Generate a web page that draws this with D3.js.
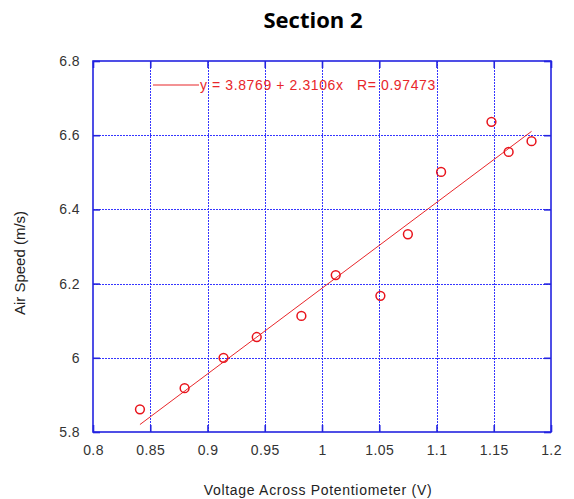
<!DOCTYPE html>
<html>
<head>
<meta charset="utf-8">
<script src="https://cdn.jsdelivr.net/npm/d3@7"></script>
<style>
  body { margin: 0; background: #fff; }
  svg { display: block; }
</style>
</head>
<body>
<svg id="drawing_region"></svg>
<script>
// measured points (voltage, air speed)
const voltage = [0.841, 0.880, 0.914, 0.943, 0.982, 1.012, 1.051, 1.075, 1.104, 1.148, 1.163, 1.183];
const airSpeed = [5.861, 5.918, 6.000, 6.056, 6.113, 6.223, 6.167, 6.333, 6.501, 6.636, 6.555, 6.584];

// linear fit shown in the legend
const fitIntercept = 3.8769;
const fitSlope = 2.3106;
const fitR = 0.97473;

const xTicks = [0.8, 0.85, 0.9, 0.95, 1, 1.05, 1.1, 1.15, 1.2];
const yTicks = [5.8, 6, 6.2, 6.4, 6.6, 6.8];

const data = voltage.map((v, i) => ({ x: v, y: airSpeed[i] }));

const config = {
    width: 574,
    height: 499,
    margin: { top: 61, right: 23, bottom: 67, left: 93 }
};

const svg = d3.select('#drawing_region')
    .attr('width', config.width)
    .attr('height', config.height);

const inner_width = config.width - config.margin.left - config.margin.right;
const inner_height = config.height - config.margin.top - config.margin.bottom;

const chart = svg.append('g')
    .attr('transform', `translate(${config.margin.left}, ${config.margin.top})`);

const xscale = d3.scaleLinear().domain([0.8, 1.2]).range([0, inner_width]);
const yscale = d3.scaleLinear().domain([5.8, 6.8]).range([inner_height, 0]);

const blue = '#2424e0';
const gridBlue = '#3535ff';
const tickFont = 'Liberation Sans, Arial, sans-serif';
const crisp = v => Math.round(v) + 0.5;

// grid
chart.append('g')
    .selectAll('line')
    .data(xTicks.slice(1, -1))
    .join('line')
    .attr('x1', d => crisp(xscale(d))).attr('x2', d => crisp(xscale(d)))
    .attr('y1', 0).attr('y2', inner_height)
    .attr('stroke', gridBlue)
    .attr('stroke-width', 1)
    .attr('stroke-dasharray', '2,1');

chart.append('g')
    .selectAll('line')
    .data(yTicks.slice(1, -1))
    .join('line')
    .attr('y1', d => crisp(yscale(d))).attr('y2', d => crisp(yscale(d)))
    .attr('x1', 0).attr('x2', inner_width)
    .attr('stroke', gridBlue)
    .attr('stroke-width', 1)
    .attr('stroke-dasharray', '2,1');

// axes with inward ticks
const xaxis = d3.axisBottom(xscale).tickValues(xTicks).tickSize(-7).tickPadding(13)
    .tickFormat(d => d3.format('')(+d.toFixed(2)));
const yaxis = d3.axisLeft(yscale).tickValues(yTicks).tickSize(-7).tickPadding(13)
    .tickFormat(d => d3.format('')(+d.toFixed(1)));
const xaxisTop = d3.axisTop(xscale).tickValues(xTicks).tickSize(-7).tickFormat('');
const yaxisRight = d3.axisRight(yscale).tickValues(yTicks).tickSize(-7).tickFormat('');

const axes = [
    chart.append('g').attr('transform', `translate(0, ${inner_height})`).call(xaxis),
    chart.append('g').call(yaxis),
    chart.append('g').call(xaxisTop),
    chart.append('g').attr('transform', `translate(${inner_width}, 0)`).call(yaxisRight)
];
axes.forEach(g => {
    g.select('.domain').remove();
    g.selectAll('.tick line').attr('stroke', blue).attr('stroke-width', 1.6);
    g.selectAll('text')
        .attr('fill', '#333')
        .style('font-family', tickFont)
        .style('font-size', '14px')
        .style('letter-spacing', '0.4px');
});

chart.append('rect')
    .attr('x', 0).attr('y', 0)
    .attr('width', inner_width).attr('height', inner_height)
    .attr('fill', 'none')
    .attr('stroke', blue)
    .attr('stroke-width', 1.6);

// fit line
const xmin = d3.min(data, d => d.x);
const xmax = d3.max(data, d => d.x);
chart.append('line')
    .attr('x1', xscale(xmin)).attr('y1', yscale(fitIntercept + fitSlope * xmin))
    .attr('x2', xscale(xmax)).attr('y2', yscale(fitIntercept + fitSlope * xmax))
    .attr('stroke', '#e8262a')
    .attr('stroke-width', 1);

// points
chart.selectAll('circle')
    .data(data)
    .join('circle')
    .attr('cx', d => xscale(d.x))
    .attr('cy', d => yscale(d.y))
    .attr('r', 4.4)
    .attr('fill', 'none')
    .attr('stroke', '#e8141c')
    .attr('stroke-width', 1.5);

// legend
const legend = chart.append('g').attr('transform', 'translate(60, 24)');
legend.append('line')
    .attr('x1', 0).attr('x2', 46)
    .attr('y1', 0).attr('y2', 0)
    .attr('stroke', '#e8262a')
    .attr('stroke-width', 1.2);
legend.append('text')
    .attr('x', 47)
    .attr('y', 5)
    .attr('fill', '#e8262a')
    .style('font-family', tickFont)
    .style('font-size', '14px')
    .style('letter-spacing', '0.6px')
    .style('white-space', 'pre')
    .text(`y = ${fitIntercept} + ${fitSlope}x   R= ${fitR}`);

// Title
svg.append('text')
    .attr('text-anchor', 'middle')
    .attr('x', 313)
    .attr('y', 28)
    .text('Section 2')
    .style('font-family', 'Open Sans, sans-serif')
    .style('font-weight', 'bold')
    .style('font-size', '22px');

// Xlabel
svg.append('text')
    .attr('text-anchor', 'middle')
    .attr('x', 318)
    .attr('y', 495)
    .attr('fill', '#222')
    .text('Voltage Across Potentiometer (V)')
    .style('font-family', tickFont)
    .style('font-size', '14px')
    .style('letter-spacing', '0.7px');

// Ylabel
svg.append('text')
    .attr('text-anchor', 'middle')
    .attr('transform', 'rotate(-90)')
    .attr('x', -263)
    .attr('y', 25)
    .attr('fill', '#222')
    .text('Air Speed (m/s)')
    .style('font-family', tickFont)
    .style('font-size', '15px');
</script>
</body>
</html>
